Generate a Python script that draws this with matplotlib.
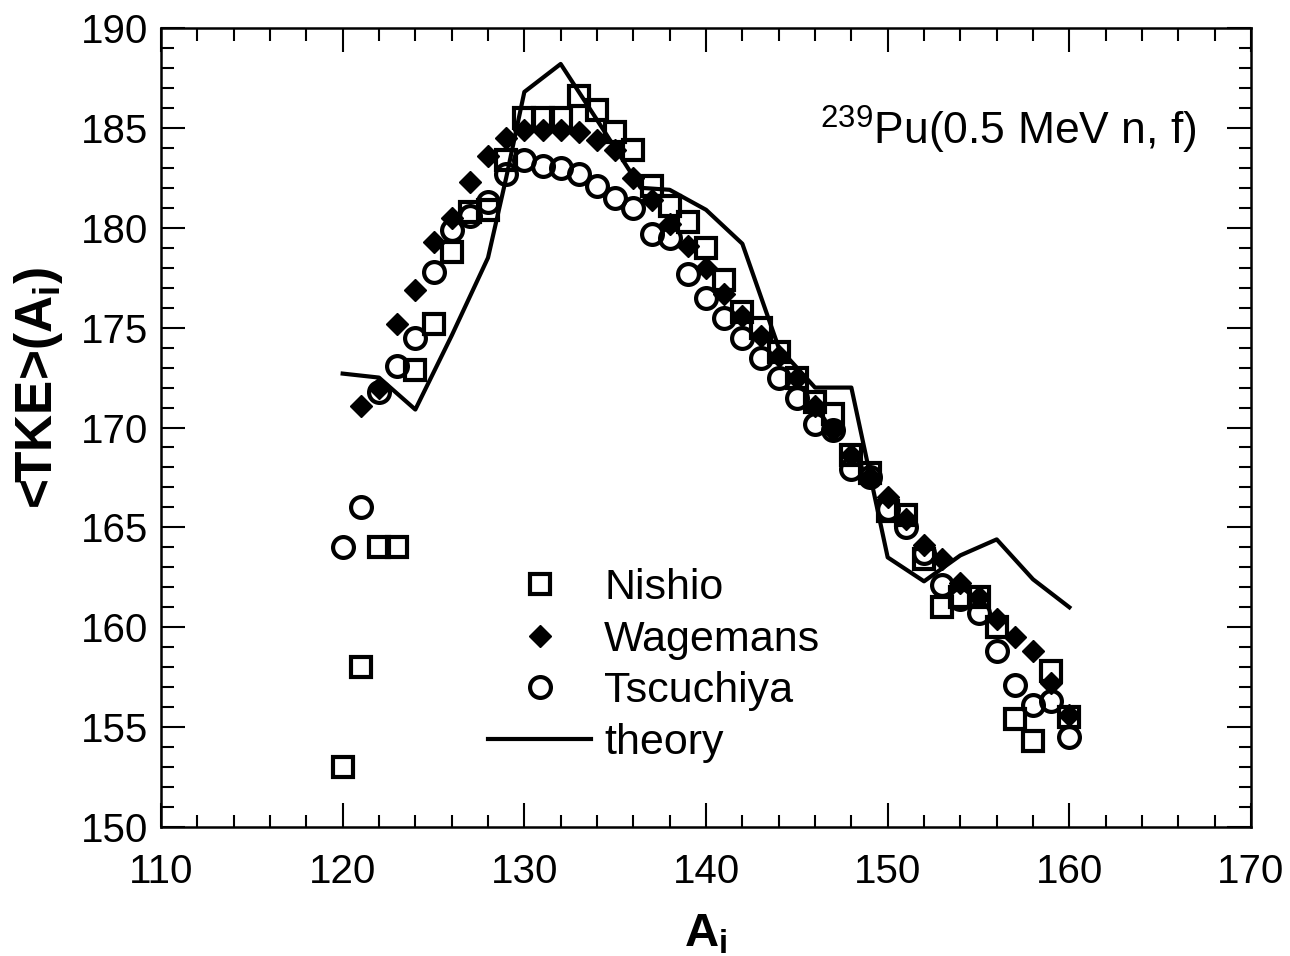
import matplotlib
matplotlib.use("Agg")
import matplotlib.pyplot as plt
from matplotlib.ticker import MultipleLocator

plt.rcParams['font.family'] = ['Liberation Sans', 'DejaVu Sans']
plt.rcParams['mathtext.fontset'] = 'custom'
plt.rcParams['mathtext.rm'] = 'Liberation Sans'
plt.rcParams['mathtext.bf'] = 'Liberation Sans:bold'

# Nishio (open squares)
nishio_a = [120, 121, 122, 123, 124, 125, 126, 127, 128, 129, 130, 131, 132, 133, 134,
            135, 136, 137, 138, 139, 140, 141, 142, 143, 144, 145, 146, 147, 148, 149,
            150, 151, 152, 153, 154, 155, 156, 157, 158, 159, 160]
nishio_tke = [153.0, 158.0, 164.0, 164.0, 172.9, 175.2, 178.8, 180.8, 180.9, 183.4, 185.5,
              185.5, 185.5, 186.6, 185.9, 184.8, 183.9, 182.1, 181.1, 180.3, 179.0, 177.4,
              175.8, 175.0, 173.8, 172.5, 171.3, 170.7, 168.6, 167.7, 165.8, 165.6, 163.4,
              161.0, 161.5, 161.5, 160.0, 155.4, 154.3, 157.8, 155.5]

# Wagemans (filled diamonds)
wag_a = [121, 122, 123, 124, 125, 126, 127, 128, 129, 130, 131, 132, 133, 134, 135, 136,
         137, 138, 139, 140, 141, 142, 143, 144, 145, 146, 147, 148, 149, 150, 151, 152,
         153, 154, 155, 156, 157, 158, 159, 160]
wag_tke = [171.1, 172.0, 175.2, 176.9, 179.3, 180.5, 182.3, 183.6, 184.5, 184.9, 184.9,
           184.9, 184.8, 184.4, 183.9, 182.5, 181.4, 180.2, 179.1, 178.0, 176.7, 175.6,
           174.6, 173.6, 172.5, 171.1, 169.9, 168.6, 167.5, 166.5, 165.4, 164.1, 163.4,
           162.2, 161.5, 160.4, 159.5, 158.8, 157.2, 155.6]

# Tscuchiya (open circles)
tsc_a = [120, 121, 122, 123, 124, 125, 126, 127, 128, 129, 130, 131, 132, 133, 134, 135,
         136, 137, 138, 139, 140, 141, 142, 143, 144, 145, 146, 147, 148, 149, 150, 151,
         152, 153, 154, 155, 156, 157, 158, 159, 160]
tsc_tke = [164.0, 166.0, 171.8, 173.1, 174.5, 177.8, 179.9, 180.6, 181.3, 182.7, 183.4,
           183.1, 183.0, 182.7, 182.1, 181.5, 181.0, 179.7, 179.5, 177.7, 176.5, 175.5,
           174.5, 173.5, 172.5, 171.5, 170.2, 169.9, 167.9, 167.5, 165.9, 165.0, 163.7,
           162.1, 161.4, 160.7, 158.8, 157.1, 156.1, 156.3, 154.5]

# theory (solid line)
theory_a = [120, 122, 124, 126, 128, 129, 130, 132, 134, 136.4, 138, 140, 142, 144, 146,
            148, 150, 152, 154, 156, 158, 160]
theory_tke = [172.7, 172.5, 170.9, 174.6, 178.5, 182.5, 186.8, 188.2, 185.4, 182.0, 181.9,
              180.9, 179.2, 174.0, 172.0, 172.0, 163.5, 162.3, 163.6, 164.4, 162.4, 161.0]

fig = plt.figure(figsize=(12.9, 9.56), dpi=100)
ax = fig.add_axes([0.1248, 0.1349, 0.845, 0.8358])

ax.plot(nishio_a, nishio_tke, 's', ms=15, mfc='none', mec='black', mew=3, label='Nishio')
ax.plot(wag_a, wag_tke, 'D', ms=11, color='black', label='Wagemans')
ax.plot(tsc_a, tsc_tke, 'o', ms=15, mfc='none', mec='black', mew=3, label='Tscuchiya')
ax.plot(theory_a, theory_tke, '-', color='black', lw=3, label='theory')

ax.set_xlim(110, 170)
ax.set_ylim(150, 190)
ax.xaxis.set_major_locator(MultipleLocator(10))
ax.xaxis.set_minor_locator(MultipleLocator(2))
ax.yaxis.set_major_locator(MultipleLocator(5))
ax.yaxis.set_minor_locator(MultipleLocator(1))
ax.tick_params(which='both', direction='in', top=True, right=True, width=1.5,
               labelsize=29, colors='black')
ax.tick_params(which='major', length=17)
ax.tick_params(which='minor', length=9)
ax.tick_params(axis='x', which='major', pad=19)
ax.tick_params(axis='y', which='major', pad=9)
for s in ax.spines.values():
    s.set_linewidth(1.8)

ax.set_xlabel(r'A$_\mathbf{i}$', fontsize=34, fontweight='bold', labelpad=15)
ax.set_ylabel(r'<TKE>(A$_\mathbf{i}$)', fontsize=37, fontweight='bold')
ax.yaxis.set_label_coords(-0.088, 0.549)

ax.text(0.95, 0.872, r'$^{239}$Pu(0.5 MeV n, f)', transform=ax.transAxes,
        ha='right', va='center', fontsize=32)

ax.legend(loc='upper left', bbox_to_anchor=(0.30, 0.324), frameon=False, fontsize=31,
          handlelength=2.4, handletextpad=0.3, labelspacing=0.27, borderpad=0,
          borderaxespad=0, numpoints=1)

fig.savefig('out.png', dpi=100)
